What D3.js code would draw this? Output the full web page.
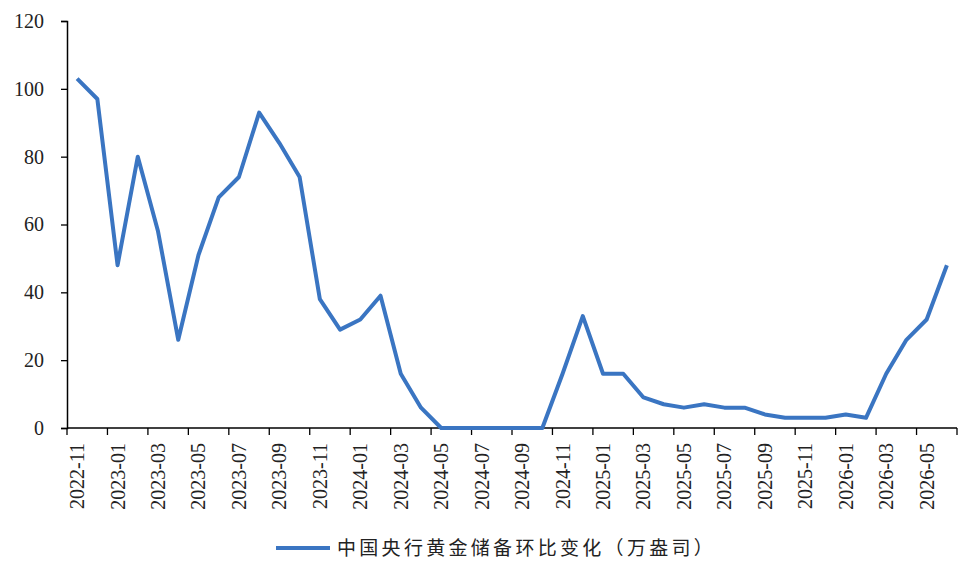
<!DOCTYPE html>
<html>
<head>
<meta charset="utf-8">
<script src="https://cdn.jsdelivr.net/npm/d3@7"></script>
<style>
  html, body { margin: 0; padding: 0; background: #fff; }
  svg { display: block; }
</style>
</head>
<body>
<div id="chart"></div>
<script>
'use strict'

// monthly categories, 2022-11 .. 2026-06
const months = [
  '2022-11', '2022-12',
  '2023-01', '2023-02', '2023-03', '2023-04', '2023-05', '2023-06',
  '2023-07', '2023-08', '2023-09', '2023-10', '2023-11', '2023-12',
  '2024-01', '2024-02', '2024-03', '2024-04', '2024-05', '2024-06',
  '2024-07', '2024-08', '2024-09', '2024-10', '2024-11', '2024-12',
  '2025-01', '2025-02', '2025-03', '2025-04', '2025-05', '2025-06',
  '2025-07', '2025-08', '2025-09', '2025-10', '2025-11', '2025-12',
  '2026-01', '2026-02', '2026-03', '2026-04', '2026-05', '2026-06'
]

// 中国央行黄金储备环比变化（万盎司）
const goldChange = [
  103, 97,
  48, 80, 58, 26, 51, 68,
  74, 93, 84, 74, 38, 29,
  32, 39, 16, 6, 0, 0,
  0, 0, 0, 0, 16, 33,
  16, 16, 9, 7, 6, 7,
  6, 6, 4, 3, 3, 3,
  4, 3, 16, 26, 32, 48
]

const yTicks = [0, 20, 40, 60, 80, 100, 120]
const seriesName = '中国央行黄金储备环比变化（万盎司）'

const width = 969
const height = 567
const margin = {top: 21, right: 12, bottom: 139, left: 67}
const serif = '"Liberation Serif", "DejaVu Serif", serif'

const svg = d3.select('#chart').append('svg')
  .attr('width', width)
  .attr('height', height)

const x = d3.scaleBand()
  .domain(months)
  .range([margin.left, width - margin.right])
  .paddingInner(0)
  .paddingOuter(0)

const y = d3.scaleLinear()
  .domain([0, 120])
  .range([height - margin.bottom, margin.top])

// y axis
const yAxis = svg.append('g')
  .attr('transform', 'translate(' + margin.left + ',0)')
  .call(d3.axisLeft(y).tickValues(yTicks).tickSize(6).tickPadding(17))
yAxis.select('.domain').attr('stroke', '#000').attr('stroke-width', 1.5)
yAxis.selectAll('.tick line').attr('stroke', '#000').attr('stroke-width', 1.3)
yAxis.selectAll('text')
  .style('font-family', serif)
  .style('font-size', '20px')
  .attr('fill', '#222')

// x axis: ticks on category boundaries every 2 months, labels under every 2nd month
const xg = svg.append('g')
  .attr('transform', 'translate(0,' + y(0) + ')')

xg.append('line')
  .attr('x1', x.range()[0]).attr('x2', x.range()[1])
  .attr('stroke', '#000').attr('stroke-width', 1.5)

const boundaries = d3.range(0, months.length + 1, 2)
xg.selectAll('.xtick')
  .data(boundaries)
  .enter().append('line')
  .attr('class', 'xtick')
  .attr('x1', (i) => i < months.length ? x(months[i]) : x.range()[1])
  .attr('x2', (i) => i < months.length ? x(months[i]) : x.range()[1])
  .attr('y1', 0).attr('y2', 7)
  .attr('stroke', '#000').attr('stroke-width', 1.3)

const labelled = months.filter((d, i) => i % 2 === 0)
xg.selectAll('.xlabel')
  .data(labelled)
  .enter().append('text')
  .attr('class', 'xlabel')
  .attr('transform', (d) => 'translate(' + (x(d) + x.bandwidth() / 2 + 7) + ',15)rotate(-90)')
  .attr('text-anchor', 'end')
  .style('font-family', serif)
  .style('font-size', '20px')
  .attr('fill', '#222')
  .text((d) => d)

// the series line
const line = d3.line()
  .x((d, i) => x(months[i]) + x.bandwidth() / 2)
  .y((d) => y(d))

svg.append('path')
  .datum(goldChange)
  .attr('fill', 'none')
  .attr('stroke', '#3a75c2')
  .attr('stroke-width', 4)
  .attr('stroke-linejoin', 'round')
  .attr('d', line)

// legend
const legend = svg.append('g')
  .attr('transform', 'translate(276,548)')
legend.append('line')
  .attr('x1', 0).attr('x2', 54)
  .attr('stroke', '#3a75c2').attr('stroke-width', 4)
legend.append('text')
  .attr('x', 61)
  .attr('dy', '0.36em')
  .style('font-family', '"Noto Sans CJK SC", sans-serif')
  .style('font-size', '19px')
  .style('letter-spacing', '3.3px')
  .attr('fill', '#222')
  .text(seriesName)
</script>
</body>
</html>
